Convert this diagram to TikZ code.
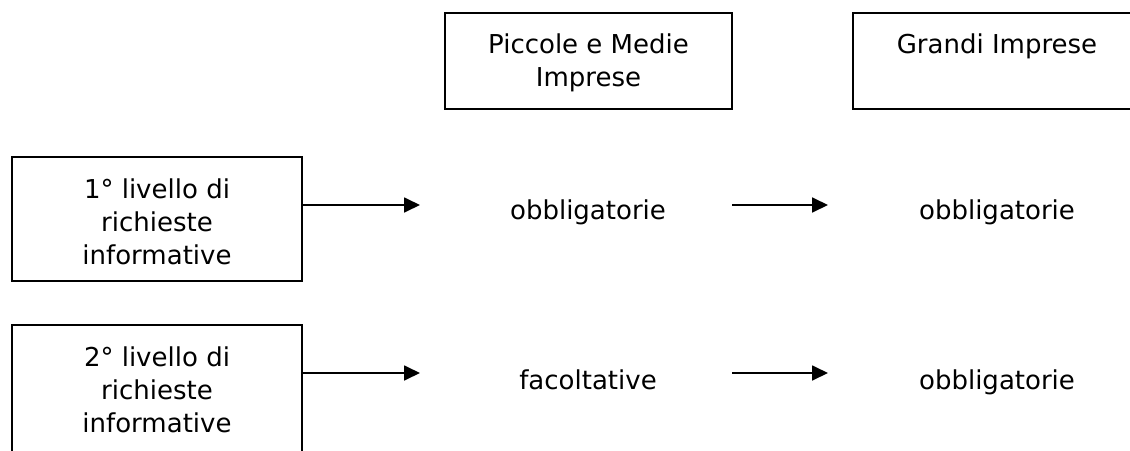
\documentclass[tikz,border=0pt]{standalone}
\usepackage{fontspec}
\setmainfont{DejaVu Sans}
\usetikzlibrary{arrows.meta}
\begin{document}
\begin{tikzpicture}[x=1pt,y=-1pt,
  box/.style={draw=black,line width=2pt,inner sep=0pt,outer sep=0pt},
  txt/.style={align=center,inner sep=0pt,font=\fontsize{26}{33}\selectfont},
  arr/.style={draw=black,line width=1.8pt,-{Triangle[length=16pt,width=15pt]}}]
\useasboundingbox (0,0) rectangle (1130,450);
% header boxes
\node[box,minimum width=287pt,minimum height=96pt] (H1) at (588.5,61) {};
\node[box,minimum width=288pt,minimum height=96pt] (H2) at (997,61) {};
\node[txt,anchor=base] (H1t) at (588.5,86) {Piccole e Medie\\Imprese};
\node[txt,anchor=base] (H2t) at (997,53) {Grandi Imprese};
% left boxes
\node[box,minimum width=290pt,minimum height=124pt] (L1) at (157,219) {};
\node[box,minimum width=290pt,minimum height=132pt] (L2) at (157,391) {};
\node[txt,anchor=base] (L1t) at (157,264) {1° livello di\\richieste\\informative};
\node[txt,anchor=base] (L2t) at (157,432) {2° livello di\\richieste\\informative};
% row texts
\node[txt,anchor=base] (R1a) at (588,219) {obbligatorie};
\node[txt,anchor=base] (R1b) at (997,219) {obbligatorie};
\node[txt,anchor=base] (R2a) at (588,389) {facoltative};
\node[txt,anchor=base] (R2b) at (997,389) {obbligatorie};
% arrow end points
\coordinate (a1e) at (420,205);
\coordinate (a2e) at (420,373);
\coordinate (b1s) at (732,205);
\coordinate (b1e) at (828,205);
\coordinate (b2s) at (732,373);
\coordinate (b2e) at (828,373);
\draw[arr] (L1.east |- a1e) -- (a1e);
\draw[arr] (L2.east |- a2e) -- (a2e);
\draw[arr] (b1s) -- (b1e);
\draw[arr] (b2s) -- (b2e);
\end{tikzpicture}
\end{document}
